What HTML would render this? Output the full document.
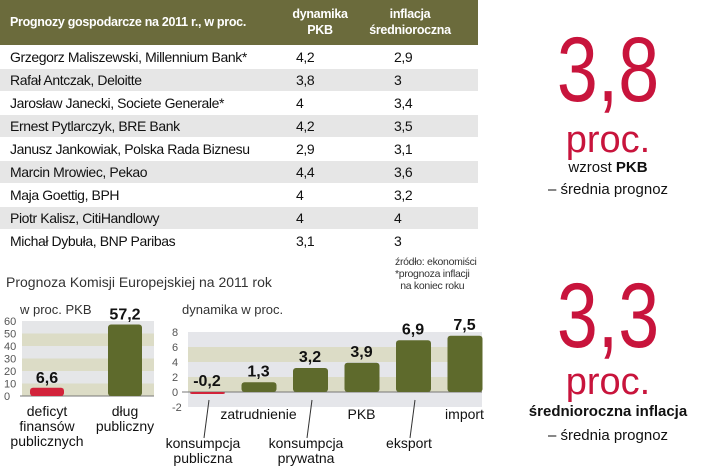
<!DOCTYPE html>
<html><head><meta charset="utf-8"><style>
body{margin:0;width:720px;height:472px;background:#fff;overflow:hidden;font-family:"Liberation Sans",sans-serif;position:relative}
.abs{position:absolute}
#tbl{position:absolute;left:0;top:0;width:478px}
.hdr{height:45px;background:#6b6b3c;color:#fff;font-weight:bold;font-size:12.5px;position:relative;letter-spacing:-0.3px}
.row{height:22px;margin-top:1px;position:relative;font-size:14px;color:#111;line-height:22px;letter-spacing:-0.4px}
.row.g{background:#e6e6e6}
.c1{position:absolute;left:10px}.c2{position:absolute;left:296px}.c3{position:absolute;left:394px}
.big{color:#c8143c;font-family:"Liberation Sans",sans-serif;font-weight:300;text-align:center;width:180px;left:518px}
.sub{text-align:center;width:180px;left:518px;font-family:"Liberation Sans",sans-serif;font-size:15px;color:#111}
</style></head><body>
<div id="tbl">
<div class="hdr">
<span class="abs" style="left:10px;top:15px">Prognozy gospodarcze na 2011 r., w proc.</span>
<span class="abs" style="left:280px;width:80px;top:6px;text-align:center;line-height:16px">dynamika<br>PKB</span>
<span class="abs" style="left:360px;width:100px;top:6px;text-align:center;line-height:16px">inflacja<br>średnioroczna</span>
</div>
<div id="rows"></div>
</div>
<div class="abs" style="left:395px;top:256px;font-size:10.5px;line-height:12px;color:#333;letter-spacing:-0.3px">źródło: ekonomiści<br>*prognoza inflacji<br>&nbsp;&nbsp;na koniec roku</div>

<div class="abs big" style="top:24px;font-size:92px;line-height:92px;transform:scaleX(0.8)">3,8</div>
<div class="abs big" style="top:120px;font-size:38px;line-height:40px">proc.</div>
<div class="abs sub" style="top:159px">wzrost <b>PKB</b></div>
<div class="abs sub" style="top:181px">– średnia prognoz</div>

<div class="abs big" style="top:270px;font-size:92px;line-height:92px;transform:scaleX(0.8)">3,3</div>
<div class="abs big" style="top:362px;font-size:38px;line-height:40px">proc.</div>
<div class="abs sub" style="top:403px;font-weight:bold">średnioroczna inflacja</div>
<div class="abs sub" style="top:427px">– średnia prognoz</div>

<svg class="abs" style="left:0;top:0" width="720" height="472" id="ch" font-family="Liberation Sans, sans-serif"></svg>
<script>
const names=["Grzegorz Maliszewski, Millennium Bank*","Rafał Antczak, Deloitte","Jarosław Janecki, Societe Generale*","Ernest Pytlarczyk, BRE Bank","Janusz Jankowiak, Polska Rada Biznesu","Marcin Mrowiec, Pekao","Maja Goettig, BPH","Piotr Kalisz, CitiHandlowy","Michał Dybuła, BNP Paribas"];
const pkb=["4,2","3,8","4","4,2","2,9","4,4","4","4","3,1"];
const infl=["2,9","3","3,4","3,5","3,1","3,6","3,2","4","3"];
const rows=document.getElementById('rows');
names.forEach((n,i)=>{const d=document.createElement('div');d.className='row'+(i%2?' g':'');


d.innerHTML='<span class="c1">'+n+'</span><span class="c2">'+pkb[i]+'</span><span class="c3">'+infl[i]+'</span>';rows.appendChild(d);});

const leftCats=["deficyt finansów publicznych","dług publiczny"];
const leftVals=[6.6,57.2];
const leftTicks=[0,10,20,30,40,50,60];
const rightCats=["konsumpcja publiczna","zatrudnienie","konsumpcja prywatna","PKB","eksport","import"];
const rightVals=[-0.2,1.3,3.2,3.9,6.9,7.5];
const rightTicks=[-2,0,2,4,6,8];

const svg=document.getElementById('ch');const NS='http://www.w3.org/2000/svg';
function el(t,a,txt){const e=document.createElementNS(NS,t);for(const k in a)e.setAttribute(k,a[k]);if(txt!==undefined)e.textContent=txt;svg.appendChild(e);return e;}
let t;
t=el('text',{x:6,y:287,'font-size':14,fill:'#333'},'Prognoza Komisji Europejskiej na 2011 rok');


t=el('text',{x:20,y:314,'font-size':13,fill:'#333'},'w proc. PKB');


t=el('text',{x:182,y:314,'font-size':13,fill:'#333'},'dynamika w proc.');



const ly=v=>396-v*1.25;
for(let k=0;k<6;k++){const r=el('rect',{x:22,y:ly(leftTicks[k+1]),width:132,height:12.5,fill:k%2?'#e5e6e8':'#dcdcc6'});

}
leftTicks.forEach(v=>{const tt=el('text',{x:4,y:ly(v)+4,'font-size':11,fill:'#555'},String(v));

});
el('line',{x1:20,x2:154,y1:ly(0),y2:ly(0),stroke:'#777','stroke-width':1});
const lx=[30,108];
leftVals.forEach((v,i)=>{const b=el('rect',{x:lx[i],y:ly(v),width:34,height:ly(0)-ly(v),rx:3,fill:i==0?'#d2233a':'#5e6a2c'});


const tx=el('text',{x:lx[i]+17,y:ly(v)-5,'font-size':16,'font-weight':'bold','text-anchor':'middle',fill:'#111'},String(v).replace('.',','));

});
[["deficyt","finansów","publicznych"],["dług","publiczny"]].forEach((ls,i)=>ls.forEach((s,j)=>{const tx=el('text',{x:lx[i]+17,y:416+j*15,'font-size':14,'text-anchor':'middle',fill:'#111'},s);

}));

const ry=v=>392-v*7.5;
for(let k=0;k<5;k++){const r=el('rect',{x:188,y:ry(rightTicks[k+1]),width:294,height:15,fill:k%2?'#dcdcc6':'#e5e6ea'});

}
rightTicks.forEach(v=>{const tt=el('text',{x:172,y:ry(v)+4,'font-size':11,fill:'#555'},String(v));

});
el('line',{x1:182,x2:482,y1:ry(0),y2:ry(0),stroke:'#777','stroke-width':1});
const rx=i=>190+i*51.5;
rightVals.forEach((v,i)=>{const top=Math.min(ry(v),ry(0)),h=Math.max(Math.abs(ry(v)-ry(0)),2);
const b=el('rect',{x:rx(i),y:top,width:35,height:h,rx:3,fill:v<0?'#d2233a':'#5e6a2c'});


const tx=el('text',{x:rx(i)+17,y:Math.min(ry(v),ry(0))-6,'font-size':16,'font-weight':'bold','text-anchor':'middle',fill:'#111'},String(v).replace('.',','));

});
rightCats.forEach((c,i)=>{const low=(i%2==0);const ws=c.split(' ');const cx=rx(i)+17;
if(low){el('line',{x1:cx+2,x2:cx-3,y1:ry(0)+8,y2:ry(0)+46,stroke:'#333','stroke-width':1});}
ws.forEach((w,j)=>{const tx=el('text',{x:low?cx-4:cx,y:(low?448:419)+j*15,'font-size':14,'text-anchor':'middle',fill:'#111'},w);

});});
</script>
</body></html>
